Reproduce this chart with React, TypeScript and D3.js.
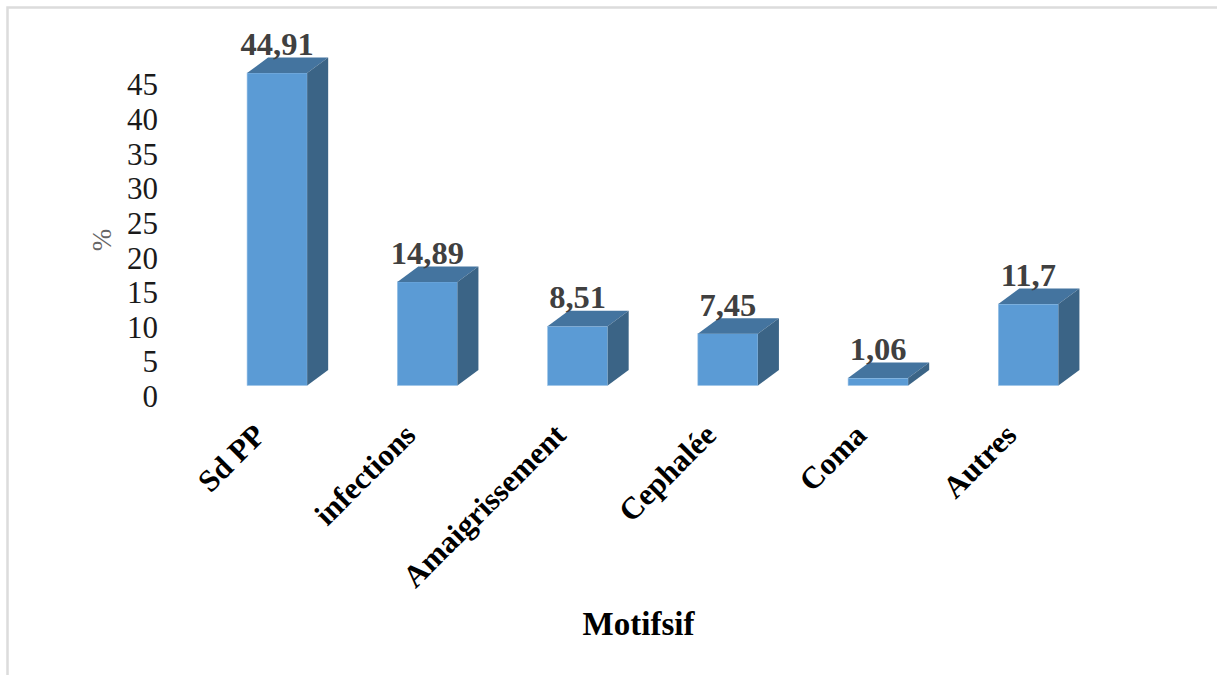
import React from "react";
import * as d3 from "d3";

const categories = ["Sd PP", "infections", "Amaigrissement", "Cephalée", "Coma", "Autres"];
const values = [44.91, 14.89, 8.51, 7.45, 1.06, 11.7];
const valueLabels = ["44,91", "14,89", "8,51", "7,45", "1,06", "11,7"];
const ticks = [0, 5, 10, 15, 20, 25, 30, 35, 40, 45];

const WIDTH = 1217;
const HEIGHT = 675;
const DEPTH_X = 21;
const DEPTH_Y = 15.5;
const FONT = "'Liberation Serif', 'Times New Roman', serif";

export default function App() {
  const x = d3.scaleBand().domain(categories).range([202, 1103.5]).paddingInner(0.6).paddingOuter(0.3);
  const barY = d3.scaleLinear().domain([0, 44.91]).range([385.5, 73]);
  const axisY = d3.scaleLinear().domain([0, 45]).range([396.5, 84.8]);
  const bw = x.bandwidth();

  return (
    <svg
      width={WIDTH}
      height={HEIGHT}
      style={{ position: "absolute", left: 0, top: 0, background: "#fff" }}
      fontFamily={FONT}
    >
      {/* chart frame: only the left and top edges fall inside the page */}
      <path d="M7.5,675 V7.5 H1217" fill="none" stroke="#dcdcdc" strokeWidth={2.5} />

      {ticks.map((t) => (
        <text key={t} x={158} y={axisY(t)} dy="0.34em" textAnchor="end" fontSize={31} fill="#1a1a1a">
          {t}
        </text>
      ))}

      <text
        transform="translate(111,240) rotate(-90)"
        textAnchor="middle"
        fontSize={27}
        fill="#666"
      >
        %
      </text>

      {categories.map((c, i) => {
        const x0 = x(c)!;
        const x1 = x0 + bw;
        const top = barY(values[i]);
        const base = barY(0);
        return (
          <g key={c}>
            <rect x={x0} y={top} width={bw} height={base - top} fill="#5b9bd5" stroke="#9cc3e6" strokeWidth={0.6} />
            <path
              d={`M${x0},${top} L${x0 + DEPTH_X},${top - DEPTH_Y} H${x1 + DEPTH_X} L${x1},${top} Z`}
              fill="#44749f"
            />
            <path
              d={`M${x1},${top} L${x1 + DEPTH_X},${top - DEPTH_Y} V${base - DEPTH_Y} L${x1},${base} Z`}
              fill="#3b6486"
            />
            <text
              x={x0 + bw / 2}
              y={top - DEPTH_Y - 2.5}
              textAnchor="middle"
              fontSize={32.5}
              fontWeight="bold"
              fill="#404040"
            >
              {valueLabels[i]}
            </text>
            <text
              transform={`translate(${x0 + bw / 2 - 10},${437}) rotate(-45)`}
              textAnchor="end"
              fontSize={31}
              fontWeight="bold"
              fill="#000"
            >
              {c}
            </text>
          </g>
        );
      })}

      <text x={638.5} y={634.5} textAnchor="middle" fontSize={33} fontWeight="bold" fill="#000">
        Motifsif
      </text>
    </svg>
  );
}
